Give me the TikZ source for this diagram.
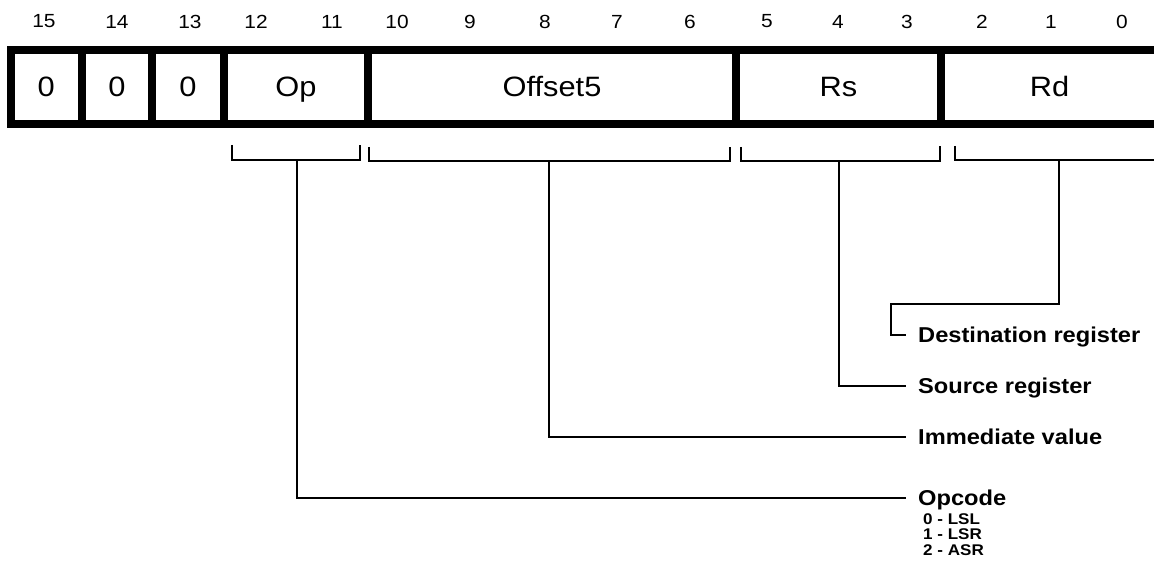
\documentclass[tikz,border=0pt]{standalone}
\usepackage{fontspec}
\setmainfont{Liberation Sans}[FakeStretch=1.1]
\begin{document}
\begin{tikzpicture}[x=1pt,y=-1pt,
  cell/.style={draw, line width=8pt, minimum height=74pt, inner sep=0pt,
    text height=20pt, text depth=0pt, font=\fontsize{28}{30}\selectfont},
  bitno/.style={inner sep=0pt, font=\fontsize{19}{20}\selectfont},
  brk/.style={line width=2pt},
  conn/.style={line width=2pt},
  lbl/.style={anchor=west, inner xsep=12pt, inner ysep=0pt, text height=15.4pt,
    text depth=0pt, font=\bfseries\fontsize{21.5}{23}\selectfont},
  sublbl/.style={anchor=north west, align=left, inner sep=0pt,
    font=\bfseries\fontsize{15.5}{15.5}\selectfont},
]
\useasboundingbox (0,0) rectangle (1154,569);
\clip (0,0) rectangle (1154,569);

% bit numbers
\foreach \b/\x in {15/44,14/117,13/190,12/256,11/332,10/397,9/470,8/545,7/617,6/690,5/767,4/838,3/907,2/982,1/1051,0/1122}
  \node[bitno] (bit\b) at (\x,21.5) {\b};

% fields
\node[cell, minimum width=71.5pt] (f15) at (46.25,87) {0};
\node[cell, minimum width=70pt]   (f14) at (117,87) {0};
\node[cell, minimum width=72pt]   (f13) at (188,87) {0};
\node[cell, minimum width=144pt]  (fop) at (296,87) {Op};
\node[cell, minimum width=368pt]  (foff) at (552,87) {Offset5};
\node[cell, minimum width=205pt]  (frs) at (838.5,87) {Rs};
\node[cell, minimum width=217pt]  (frd) at (1049.5,87) {Rd};

% brackets
\draw[brk] (232,145) |- (360,160) -- (360,145);
\draw[brk] (369,147) |- (730,161) -- (730,147);
\draw[brk] (741,147) |- (940,161) -- (940,146);
\draw[brk] (955,146) |- (1160,160);

\coordinate (opstem) at (297,160);
\coordinate (offstem) at (549,161);
\coordinate (rsstem) at (839,161);
\coordinate (rdstem) at (1059,160);
\coordinate (rdbend) at (891,304);

% labels
\node[lbl] (dest) at (906,335) {Destination register};
\node[lbl] (src) at (906,386) {Source register};
\node[lbl] (imm) at (906,437) {Immediate value};
\node[lbl] (opc) at (906,498) {Opcode};
\node[sublbl] (oplist) at (923,513) {0 - LSL\\1 - LSR\\2 - ASR};

% connectors
\draw[conn] (rdstem) |- (rdbend) |- (dest.west);
\draw[conn] (rsstem) |- (src.west);
\draw[conn] (offstem) |- (imm.west);
\draw[conn] (opstem) |- (opc.west);
\end{tikzpicture}
\end{document}
